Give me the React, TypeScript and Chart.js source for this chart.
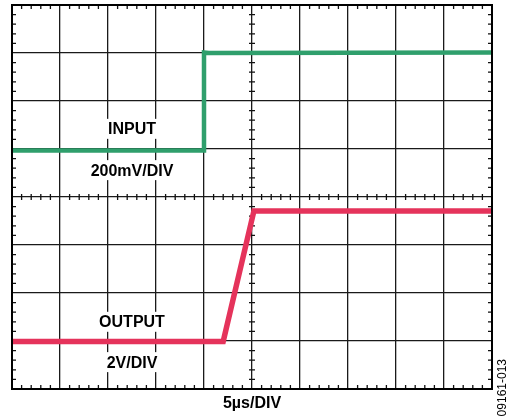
import React, { useEffect, useRef } from "react";
import { Chart, registerables } from "chart.js";

Chart.register(...registerables);

// Time axis in divisions (5 µs/DIV), vertical axis in divisions
const inputTime = [0, 4.0, 4.0, 4.1, 10];
const inputLevel = [4.97, 4.97, 7.01, 7.0, 7.01];
const outputTime = [0, 4.4, 5.04, 10];
const outputLevel = [0.99, 0.99, 3.71, 3.71];

const xDivisions = 10;
const yDivisions = 8;

const labelTexts = ["INPUT", "200mV/DIV", "OUTPUT", "2V/DIV"];
const labelX = [2.5, 2.5, 2.5, 2.5];
const labelY = [5.42, 4.56, 1.4, 0.56];
const xAxisTitle = "5µs/DIV";
const figureId = "09161-013";

const GREEN = "#2f9f6c";
const RED = "#e5335b";
const FONT = "bold 16px 'Liberation Sans', Arial, sans-serif";

const scopePlugin = {
  id: "scopeDecor",
  beforeDatasetsDraw(chart: any) {
    const { ctx, scales, chartArea } = chart;
    const xs = scales.x;
    const ys = scales.y;
    ctx.save();
    // minor ticks
    ctx.strokeStyle = "#111";
    ctx.lineWidth = 1.3;
    ctx.beginPath();
    const cy = ys.getPixelForValue(yDivisions / 2);
    const cx = xs.getPixelForValue(xDivisions / 2);
    for (let i = 1; i < xDivisions * 5; i++) {
      if (i % 5 === 0) continue;
      const px = xs.getPixelForValue(i / 5);
      ctx.moveTo(px, chartArea.top);
      ctx.lineTo(px, chartArea.top + 4);
      ctx.moveTo(px, chartArea.bottom);
      ctx.lineTo(px, chartArea.bottom - 4);
      ctx.moveTo(px, cy - 3);
      ctx.lineTo(px, cy + 3);
    }
    for (let i = 1; i < yDivisions * 5; i++) {
      if (i % 5 === 0) continue;
      const py = ys.getPixelForValue(i / 5);
      ctx.moveTo(chartArea.left, py);
      ctx.lineTo(chartArea.left + 4, py);
      ctx.moveTo(chartArea.right, py);
      ctx.lineTo(chartArea.right - 4, py);
      ctx.moveTo(cx - 3, py);
      ctx.lineTo(cx + 3, py);
    }
    ctx.stroke();

    // labels with white knockout boxes
    ctx.font = FONT;
    ctx.textAlign = "center";
    ctx.textBaseline = "middle";
    labelTexts.forEach((t, i) => {
      const px = xs.getPixelForValue(labelX[i]);
      const py = ys.getPixelForValue(labelY[i]);
      const w = ctx.measureText(t).width;
      ctx.fillStyle = "#fff";
      ctx.fillRect(px - w / 2 - 3, py - 10, w + 6, 20);
      ctx.fillStyle = "#000";
      ctx.fillText(t, px, py + 1);
    });

    // x axis title
    ctx.fillText(xAxisTitle, cx, chartArea.bottom + 15);

    // figure id (rotated)
    ctx.font = "12px 'Liberation Sans', Arial, sans-serif";
    ctx.translate(chartArea.right + 11, chartArea.bottom - 30);
    ctx.rotate(-Math.PI / 2);
    ctx.textAlign = "right";
    ctx.fillText(figureId, 0, 0);
    ctx.restore();
  },
};

export default function App() {
  const ref = useRef<HTMLCanvasElement>(null);
  useEffect(() => {
    document.body.style.margin = "0";
    const chart = new Chart(ref.current!, {
      type: "scatter",
      data: {
        datasets: [
          {
            label: "INPUT",
            data: inputTime.map((t, i) => ({ x: t, y: inputLevel[i] })),
            showLine: true,
            borderColor: GREEN,
            borderWidth: 4.5,
            pointRadius: 0,
          },
          {
            label: "OUTPUT",
            data: outputTime.map((t, i) => ({ x: t, y: outputLevel[i] })),
            showLine: true,
            borderColor: RED,
            borderWidth: 5.5,
            pointRadius: 0,
          },
        ],
      },
      options: {
        animation: false,
        responsive: true,
        maintainAspectRatio: false,
        layout: { padding: { left: 12, top: 5, right: 22, bottom: 28 } },
        plugins: { legend: { display: false }, tooltip: { enabled: false } },
        scales: {
          x: {
            type: "linear",
            min: 0,
            max: xDivisions,
            ticks: { display: false, stepSize: 1 },
            grid: { color: "#1a1a1a", lineWidth: 1.3, drawTicks: false },
            border: { display: true, color: "#000", width: 2 },
          },
          y: {
            type: "linear",
            min: 0,
            max: yDivisions,
            ticks: { display: false, stepSize: 1 },
            grid: { color: "#1a1a1a", lineWidth: 1.3, drawTicks: false },
            border: { display: true, color: "#000", width: 2 },
          },
        },
      },
      plugins: [
        scopePlugin,
        {
          id: "frame",
          afterDraw(chart: any) {
            const { ctx, chartArea } = chart;
            ctx.save();
            ctx.strokeStyle = "#000";
            ctx.lineWidth = 2;
            ctx.strokeRect(chartArea.left, chartArea.top, chartArea.right - chartArea.left, chartArea.bottom - chartArea.top);
            ctx.restore();
          },
        },
      ],
    });
    return () => chart.destroy();
  }, []);
  return (
    <div style={{ position: "absolute", left: 0, top: 0, width: 514, height: 417, background: "#fff" }}>
      <canvas ref={ref} />
    </div>
  );
}
